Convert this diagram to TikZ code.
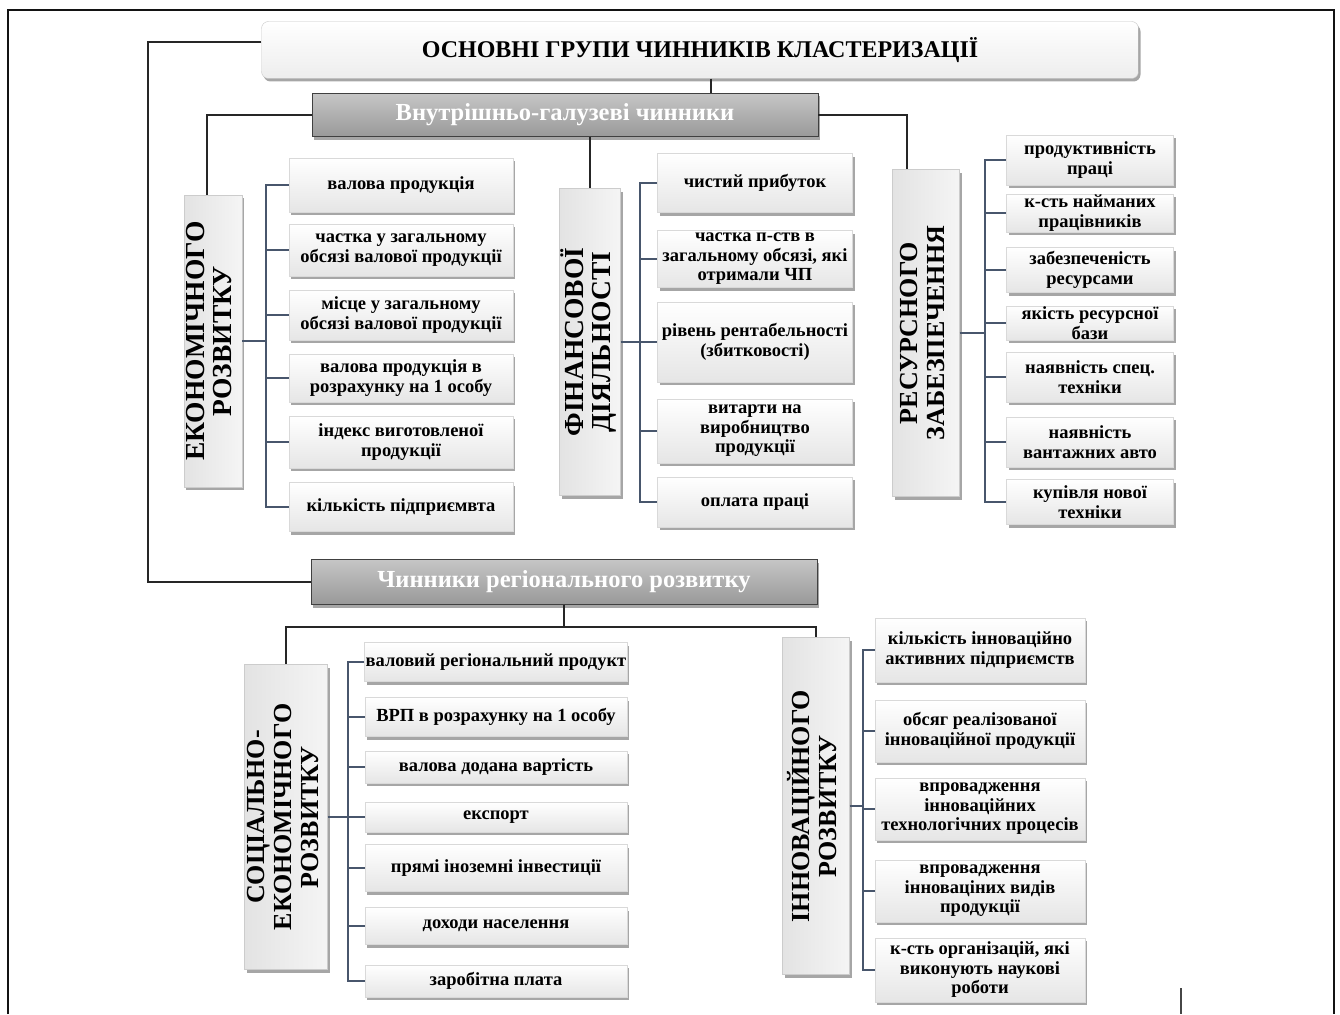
\documentclass[tikz,border=0pt]{standalone}
\usepackage{fontspec}
\setmainfont{Liberation Serif}
\usetikzlibrary{shadows}
\definecolor{liniya}{RGB}{72,86,108}
\definecolor{temna}{RGB}{38,38,38}
\newcommand{\stovp}[1]{\rotatebox{90}{\begin{tabular}{@{}c@{}}#1\end{tabular}}}

\begin{document}
\begin{tikzpicture}[
    x=1pt, y=-1pt,
    font=\bfseries,
    tin/.style={drop shadow={shadow xshift=2pt,shadow yshift=-3pt,
                fill=black,opacity=.35}},
    golovna/.style={tin,draw=gray!45,rounded corners=7pt,
                    top color=white,bottom color=gray!14,
                    minimum width=877,minimum height=57,inner sep=0pt,
                    font=\bfseries\fontsize{24}{27}\selectfont},
    smuga/.style={tin,draw=gray!50!black,top color=gray!45,bottom color=gray!80,
                  text=white,minimum width=506,minimum height=43,inner sep=0pt,
                  font=\bfseries\fontsize{24.5}{27}\selectfont},
    grupa/.style={tin,draw=gray!40,left color=gray!22,right color=gray!8,
                  inner sep=0pt,font=\bfseries\fontsize{26}{27}\selectfont},
    velyka/.style={font=\bfseries\fontsize{27.5}{27}\selectfont},
    punkt/.style={tin,draw=gray!30,top color=white,bottom color=gray!20,
                  align=center,inner sep=1pt,
                  font=\bfseries\fontsize{18.5}{19.5}\selectfont},
    derevo/.style={line width=2pt,temna},
    duzhka/.style={line width=1.4pt,liniya}]

  \useasboundingbox (0,0) rectangle (1340,1014);

  % --- рамка ---
  \draw[line width=2.6pt,gray!15!black] (8,1014) -- (8,10) -- (1334,10) -- (1334,1014);

  % --- заголовок і дві смуги ---
  \node[golovna] (title) at (700,50) {ОСНОВНІ ГРУПИ ЧИННИКІВ КЛАСТЕРИЗАЦІЇ};
  \node[smuga] (vnutr) at (565,115) {Внутрішньо-галузеві чинники};
  \node[smuga,minimum height=45] (region) at (564,582) {Чинники регіонального розвитку};

  % --- групи чинників ---
  \node[grupa,velyka,minimum width=58,minimum height=292] (ek) at (213,341) {\stovp{ЕКОНОМІЧНОГО\\РОЗВИТКУ}};
  \node[grupa,velyka,minimum width=61,minimum height=307] (fin) at (590,342) {\stovp{ФІНАНСОВОЇ\\ДІЯЛЬНОСТІ}};
  \node[grupa,minimum width=67,minimum height=327] (res) at (926,333) {\stovp{РЕСУРСНОГО\\ЗАБЕЗПЕЧЕННЯ}};
  \node[grupa,minimum width=83,minimum height=305] (soc) at (286,817) {\stovp{СОЦІАЛЬНО-\\ЕКОНОМІЧНОГО\\РОЗВИТКУ}};
  \node[grupa,minimum width=67,minimum height=337] (inn) at (816,806) {\stovp{ІННОВАЦІЙНОГО\\РОЗВИТКУ}};

  % --- показники економічного розвитку ---
  \foreach \t/\y/\h [count=\i] in {
      {валова продукція}/185/54,
      {частка у загальному\\обсязі валової продукції}/250/52,
      {місце у загальному\\обсязі валової продукції}/315/50,
      {валова продукція в\\розрахунку на 1 особу}/378/48,
      {індекс виготовленої\\продукції}/442/52,
      {кількість підприємвта}/507/49}{
    \node[punkt,minimum width=224,minimum height=\h] (e\i) at (401,\y) {\t};
  }

  % --- показники фінансової діяльності ---
  \foreach \t/\y/\h [count=\i] in {
      {чистий прибуток}/183/59,
      {частка п-ств в\\загальному обсязі, які\\отримали ЧП}/259/57,
      {рівень рентабельності\\(збитковості)}/342/80,
      {витарти на\\виробництво\\продукції}/431/64,
      {оплата праці}/502/50}{
    \node[punkt,minimum width=195,minimum height=\h] (f\i) at (755,\y) {\t};
  }

  % --- показники ресурсного забезпечення ---
  \foreach \t/\y/\h [count=\i] in {
      {продуктивність\\праці}/160/50,
      {к-сть найманих\\працівників}/213/33,
      {забезпеченість\\ресурсами}/270/45,
      {якість ресурсної\\бази}/323/33,
      {наявність спец.\\техніки}/377/50,
      {наявність\\вантажних авто}/442/50,
      {купівля нової\\техніки}/502/45}{
    \node[punkt,minimum width=167,minimum height=\h] (r\i) at (1090,\y) {\t};
  }

  % --- показники соціально-економічного розвитку ---
  \foreach \t/\y/\h [count=\i] in {
      {валовий регіональний продукт}/662/39,
      {ВРП в розрахунку на 1 особу}/717/39,
      {валова додана вартість}/767/32,
      {експорт}/817/30,
      {прямі іноземні інвестиції}/868/47,
      {доходи населення}/926/37,
      {заробітна плата}/981/32}{
    \node[punkt,minimum width=262,minimum height=\h] (s\i) at (496,\y) {\t};
  }

  % --- показники інноваційного розвитку ---
  \foreach \t/\y/\h [count=\i] in {
      {кількість інноваційно\\активних підприємств}/650/64,
      {обсяг реалізованої\\інноваційної продукції}/731/62,
      {впровадження\\інноваційних\\технологічних процесів}/809/62,
      {впровадження\\інноваціних видів\\продукції}/891/62,
      {к-сть організацій, які\\виконують наукові\\роботи}/970/64}{
    \node[punkt,minimum width=210,minimum height=\h] (n\i) at (980,\y) {\t};
  }

  % --- дерево зв'язків ---
  \coordinate (kut) at (148,42);
  \coordinate (vuzol) at (564,627);
  \draw[derevo] ([yshift=8pt]title.west) -- (kut) |- (region.west);
  \draw[derevo] ([xshift=11pt]title.south) -- ([xshift=11pt]title.south |- vnutr.north);
  \draw[derevo] (vnutr.west) -| ([xshift=-6pt]ek.north);
  \draw[derevo] (vnutr.south -| fin.north) -- (fin.north);
  \draw[derevo] (vnutr.east) -| ([xshift=-19pt]res.north);
  \draw[derevo] (region.south) -- (vuzol);
  \draw[derevo] (vuzol) -| (soc.north);
  \draw[derevo] (vuzol) -| (inn.north);

  % --- дужки до показників ---
  \coordinate (eks) at (266,0);
  \coordinate (fis) at (640,0);
  \coordinate (rss) at (985,0);
  \coordinate (scs) at (348,0);
  \coordinate (ins) at (863,0);
  \draw[duzhka] (ek.east) -- (ek.east -| eks);
  \draw[duzhka] (fin.east) -- (fin.east -| fis);
  \draw[duzhka] (res.east) -- (res.east -| rss);
  \draw[duzhka] (soc.east) -- (soc.east -| scs);
  \draw[duzhka] (inn.east) -- (inn.east -| ins);
  \foreach \i in {1,...,6}{\draw[duzhka] (ek.east -| eks) |- (e\i.west);}
  \foreach \i in {1,...,5}{\draw[duzhka] (fin.east -| fis) |- (f\i.west);}
  \foreach \i in {1,...,7}{\draw[duzhka] (res.east -| rss) |- (r\i.west);}
  \foreach \i in {1,...,7}{\draw[duzhka] (soc.east -| scs) |- (s\i.west);}
  \foreach \i in {1,...,5}{\draw[duzhka] (inn.east -| ins) |- (n\i.west);}

  % --- риска внизу праворуч ---
  \draw[line width=2pt,gray!55!black] (1181,988) -- (1181,1014);

\end{tikzpicture}
\end{document}
